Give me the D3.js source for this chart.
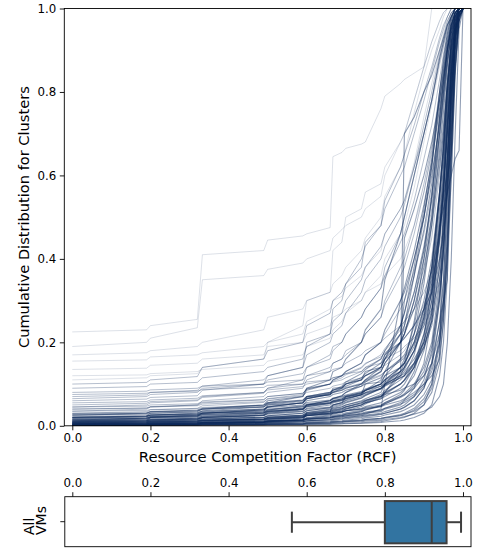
<!DOCTYPE html>
<html><head><meta charset="utf-8">
<script src="https://cdn.jsdelivr.net/npm/d3@7"></script>
<style>
body{margin:0;background:#fff}
svg{display:block}
text{font-family:"DejaVu Sans",sans-serif}
</style>
</head><body>
<svg id="chart" width="478" height="548"></svg>
<script>
// RCF grid on which each cluster's cumulative share is read
const gridX = [0, 0.19, 0.2, 0.32, 0.333, 0.49, 0.5, 0.59, 0.6, 0.66, 0.667, 0.69, 0.7, 0.74, 0.75, 0.79, 0.8, 0.84, 0.85, 0.875, 0.9, 0.92, 0.94, 0.95, 0.96, 0.97, 0.98, 0.99, 1.0];

// clusters starting low (dense band)
const lowCurves = [
 [0.004,0.006,0.007,0.009,0.01,0.014,0.016,0.02,0.024,0.03,0.032,0.036,0.04,0.05,0.055,0.065,0.07,0.09,0.1,0.14,0.22,0.32,0.48,0.58,0.72,0.85,0.95,0.99,1],
 [0.001,0.002,0.003,0.004,0.005,0.007,0.008,0.01,0.012,0.015,0.016,0.018,0.02,0.024,0.026,0.03,0.034,0.045,0.05,0.07,0.11,0.18,0.32,0.42,0.6,0.78,0.93,0.99,1],
 [0.012,0.016,0.02,0.025,0.03,0.038,0.045,0.055,0.065,0.075,0.08,0.085,0.09,0.1,0.11,0.13,0.15,0.2,0.22,0.3,0.4,0.5,0.64,0.72,0.82,0.91,0.97,1,1],
 [0,0.001,0.002,0.002,0.003,0.004,0.005,0.006,0.007,0.009,0.01,0.011,0.012,0.014,0.015,0.018,0.02,0.025,0.028,0.035,0.05,0.08,0.15,0.25,0.42,0.65,0.88,0.98,1],
 [0.02,0.024,0.03,0.034,0.04,0.05,0.06,0.07,0.085,0.1,0.11,0.12,0.13,0.15,0.17,0.2,0.23,0.3,0.33,0.42,0.53,0.63,0.76,0.83,0.9,0.95,0.99,1,1],
 [0.006,0.009,0.012,0.015,0.02,0.026,0.034,0.04,0.05,0.056,0.06,0.064,0.07,0.078,0.085,0.1,0.11,0.14,0.15,0.2,0.28,0.38,0.55,0.65,0.8,0.9,0.97,1,1],
 [0.025,0.03,0.034,0.038,0.042,0.05,0.055,0.062,0.07,0.08,0.085,0.09,0.1,0.11,0.12,0.14,0.16,0.22,0.3,0.4,0.5,0.6,0.72,0.8,0.88,0.94,0.98,1,1],
 [0,0.001,0.001,0.002,0.002,0.003,0.003,0.004,0.005,0.006,0.007,0.008,0.009,0.01,0.011,0.013,0.015,0.02,0.022,0.028,0.035,0.045,0.07,0.1,0.2,0.4,0.7,0.95,1],
 [0.008,0.011,0.014,0.018,0.022,0.03,0.038,0.048,0.06,0.07,0.075,0.08,0.085,0.095,0.1,0.115,0.13,0.16,0.17,0.22,0.3,0.4,0.56,0.66,0.78,0.89,0.96,1,1],
 [0.003,0.005,0.006,0.008,0.01,0.013,0.016,0.02,0.03,0.036,0.04,0.045,0.05,0.06,0.065,0.08,0.1,0.13,0.45,0.52,0.6,0.68,0.78,0.84,0.9,0.95,0.98,1,1],
 [0.014,0.018,0.022,0.026,0.03,0.038,0.045,0.055,0.065,0.075,0.08,0.09,0.095,0.11,0.12,0.14,0.16,0.2,0.21,0.24,0.28,0.32,0.4,0.46,0.56,0.7,0.86,0.97,1],
 [0,0.002,0.003,0.005,0.007,0.01,0.013,0.018,0.024,0.03,0.034,0.038,0.042,0.05,0.055,0.065,0.075,0.1,0.11,0.15,0.22,0.3,0.45,0.56,0.7,0.84,0.95,0.99,1],
 [0.018,0.022,0.026,0.03,0.036,0.045,0.055,0.07,0.09,0.11,0.13,0.14,0.16,0.2,0.23,0.28,0.35,0.46,0.5,0.6,0.7,0.78,0.88,0.92,0.96,0.98,1,1,1],
 [0.005,0.007,0.009,0.011,0.013,0.017,0.02,0.026,0.032,0.038,0.042,0.046,0.05,0.058,0.062,0.07,0.075,0.085,0.09,0.1,0.12,0.15,0.22,0.3,0.45,0.66,0.86,0.97,1],
 [0.01,0.012,0.02,0.022,0.03,0.033,0.05,0.054,0.07,0.074,0.09,0.092,0.1,0.11,0.13,0.14,0.17,0.2,0.22,0.28,0.38,0.48,0.62,0.7,0.82,0.92,0.98,1,1],
 [0.001,0.002,0.003,0.004,0.005,0.006,0.008,0.01,0.012,0.014,0.015,0.017,0.019,0.022,0.024,0.028,0.03,0.04,0.045,0.06,0.09,0.14,0.25,0.35,0.55,0.76,0.92,0.99,1],
 [0.002,0.003,0.004,0.005,0.006,0.008,0.01,0.014,0.03,0.034,0.05,0.055,0.07,0.075,0.1,0.105,0.12,0.14,0.15,0.19,0.27,0.38,0.54,0.64,0.8,0.92,0.98,1,1],
 [0.006,0.008,0.01,0.012,0.014,0.016,0.018,0.022,0.025,0.028,0.03,0.033,0.036,0.04,0.044,0.05,0.056,0.07,0.075,0.09,0.12,0.17,0.3,0.4,0.6,0.8,0.94,0.99,1],
 [0.01,0.012,0.014,0.016,0.018,0.02,0.022,0.025,0.028,0.03,0.032,0.034,0.036,0.04,0.042,0.046,0.05,0.06,0.065,0.08,0.1,0.12,0.16,0.55,0.6,0.65,0.95,1,1],
 [0.005,0.006,0.007,0.008,0.009,0.01,0.012,0.014,0.016,0.018,0.02,0.022,0.024,0.028,0.03,0.034,0.04,0.05,0.06,0.075,0.1,0.15,0.25,0.3,0.35,0.9,0.95,0.98,1],
 [0.02,0.022,0.025,0.027,0.03,0.034,0.038,0.045,0.05,0.055,0.06,0.065,0.07,0.08,0.085,0.1,0.12,0.16,0.7,0.74,0.8,0.84,0.9,0.93,0.96,0.98,1,1,1],
 [0.01,0.012,0.014,0.016,0.02,0.025,0.03,0.035,0.04,0.045,0.05,0.055,0.06,0.07,0.075,0.09,0.1,0.12,0.13,0.16,0.2,0.3,0.48,0.52,0.56,0.6,0.64,0.66,1],
 [0,0.002,0.003,0.004,0.005,0.006,0.007,0.01,0.012,0.015,0.017,0.02,0.022,0.025,0.028,0.04,0.1,0.3,0.32,0.4,0.5,0.62,0.8,0.88,0.94,0.98,1,1,1],
 [0.002,0.004,0.005,0.007,0.008,0.012,0.015,0.02,0.025,0.032,0.035,0.04,0.045,0.055,0.06,0.075,0.085,0.11,0.12,0.17,0.26,0.36,0.52,0.62,0.76,0.88,0.96,1,1],
 [0.015,0.018,0.021,0.024,0.027,0.032,0.036,0.042,0.048,0.055,0.058,0.062,0.066,0.074,0.078,0.088,0.095,0.115,0.12,0.15,0.2,0.27,0.4,0.5,0.66,0.82,0.94,0.99,1],
 [0.004,0.005,0.006,0.007,0.008,0.01,0.012,0.016,0.02,0.026,0.03,0.034,0.04,0.05,0.056,0.07,0.08,0.12,0.14,0.22,0.34,0.48,0.66,0.75,0.86,0.94,0.99,1,1],
 [0.026,0.028,0.03,0.032,0.035,0.04,0.044,0.05,0.056,0.062,0.066,0.07,0.074,0.082,0.088,0.1,0.11,0.13,0.14,0.18,0.25,0.34,0.5,0.6,0.74,0.87,0.96,1,1],
 [0,0.001,0.001,0.001,0.002,0.002,0.003,0.003,0.004,0.004,0.005,0.005,0.006,0.007,0.008,0.01,0.012,0.018,0.02,0.03,0.05,0.1,0.22,0.34,0.55,0.75,0.92,0.99,1],
 [0.008,0.01,0.012,0.014,0.016,0.02,0.024,0.03,0.036,0.044,0.05,0.056,0.062,0.075,0.085,0.11,0.13,0.2,0.24,0.36,0.5,0.62,0.78,0.85,0.92,0.97,1,1,1],
 [0.003,0.004,0.005,0.006,0.007,0.009,0.011,0.014,0.017,0.02,0.022,0.024,0.026,0.03,0.033,0.038,0.042,0.052,0.056,0.07,0.095,0.13,0.2,0.27,0.4,0.6,0.84,0.97,1],
 [0.012,0.014,0.016,0.018,0.02,0.024,0.028,0.034,0.042,0.05,0.055,0.06,0.065,0.075,0.08,0.095,0.105,0.13,0.14,0.18,0.24,0.32,0.46,0.56,0.7,0.84,0.95,0.99,1],
 [0.001,0.002,0.002,0.003,0.003,0.004,0.005,0.006,0.008,0.01,0.011,0.012,0.014,0.017,0.019,0.023,0.026,0.034,0.038,0.05,0.075,0.11,0.2,0.3,0.5,0.72,0.9,0.98,1],
 [0.007,0.008,0.009,0.01,0.012,0.015,0.018,0.022,0.027,0.034,0.038,0.042,0.046,0.055,0.06,0.072,0.08,0.1,0.11,0.14,0.19,0.25,0.38,0.48,0.64,0.8,0.93,0.99,1],
 [0.02,0.023,0.026,0.029,0.033,0.04,0.046,0.055,0.065,0.078,0.085,0.095,0.105,0.125,0.135,0.16,0.18,0.24,0.27,0.36,0.47,0.58,0.74,0.82,0.9,0.96,0.99,1,1],
 [0,0,0.001,0.001,0.001,0.002,0.002,0.003,0.003,0.004,0.004,0.005,0.005,0.006,0.006,0.008,0.009,0.012,0.014,0.02,0.03,0.05,0.12,0.2,0.36,0.6,0.85,0.98,1],
 [0.001,0.002,0.003,0.004,0.006,0.008,0.01,0.013,0.016,0.02,0.022,0.025,0.028,0.034,0.038,0.048,0.055,0.075,0.085,0.13,0.21,0.33,0.55,0.68,0.83,0.93,0.98,1,1],
 [0.009,0.01,0.011,0.012,0.013,0.015,0.017,0.02,0.024,0.028,0.03,0.033,0.036,0.042,0.046,0.055,0.062,0.08,0.088,0.12,0.18,0.27,0.44,0.56,0.72,0.86,0.96,1,1],
 [0.002,0.003,0.004,0.005,0.006,0.008,0.01,0.012,0.015,0.018,0.02,0.022,0.024,0.028,0.031,0.037,0.042,0.056,0.062,0.09,0.15,0.26,0.47,0.6,0.77,0.9,0.97,1,1],
 [0.016,0.018,0.02,0.022,0.025,0.03,0.034,0.04,0.046,0.054,0.058,0.063,0.068,0.078,0.084,0.1,0.11,0.14,0.15,0.2,0.28,0.38,0.56,0.67,0.8,0.91,0.97,1,1],
 [0,0.001,0.002,0.003,0.004,0.005,0.006,0.008,0.01,0.012,0.013,0.015,0.017,0.02,0.022,0.027,0.03,0.04,0.044,0.06,0.09,0.15,0.3,0.42,0.62,0.82,0.95,0.99,1],
 [0.005,0.006,0.008,0.01,0.012,0.016,0.02,0.025,0.032,0.04,0.044,0.05,0.055,0.066,0.072,0.09,0.1,0.14,0.16,0.24,0.36,0.5,0.7,0.8,0.9,0.96,0.99,1,1],
 [0.022,0.024,0.026,0.028,0.031,0.036,0.04,0.046,0.052,0.06,0.064,0.068,0.072,0.08,0.085,0.095,0.1,0.12,0.125,0.15,0.19,0.25,0.38,0.48,0.64,0.8,0.93,0.99,1],
 [0.003,0.004,0.005,0.006,0.007,0.009,0.011,0.013,0.016,0.02,0.022,0.025,0.028,0.034,0.038,0.046,0.052,0.07,0.077,0.1,0.14,0.2,0.34,0.46,0.64,0.83,0.95,0.99,1],
 [0.012,0.013,0.015,0.017,0.02,0.025,0.03,0.038,0.05,0.06,0.066,0.072,0.08,0.095,0.105,0.13,0.15,0.2,0.22,0.3,0.42,0.55,0.73,0.82,0.9,0.96,0.99,1,1],
 [0.001,0.001,0.002,0.002,0.003,0.004,0.004,0.005,0.006,0.008,0.009,0.01,0.011,0.013,0.015,0.018,0.02,0.027,0.03,0.042,0.065,0.1,0.19,0.28,0.46,0.7,0.9,0.98,1],
 [0.007,0.009,0.011,0.013,0.016,0.02,0.024,0.03,0.036,0.043,0.047,0.052,0.057,0.067,0.073,0.088,0.097,0.125,0.135,0.18,0.26,0.37,0.56,0.67,0.81,0.92,0.98,1,1],
 [0.028,0.03,0.033,0.036,0.04,0.046,0.052,0.06,0.07,0.08,0.086,0.092,0.1,0.115,0.125,0.15,0.17,0.22,0.24,0.32,0.43,0.54,0.7,0.79,0.88,0.95,0.99,1,1],
 [0.004,0.005,0.006,0.007,0.008,0.01,0.012,0.015,0.018,0.022,0.025,0.028,0.031,0.037,0.04,0.048,0.053,0.068,0.073,0.095,0.13,0.19,0.31,0.42,0.58,0.77,0.93,0.99,1],
 [0.014,0.016,0.018,0.02,0.023,0.027,0.032,0.04,0.05,0.06,0.065,0.072,0.08,0.1,0.11,0.14,0.16,0.24,0.27,0.38,0.52,0.64,0.8,0.87,0.93,0.97,1,1,1],
 [0,0.001,0.001,0.002,0.002,0.003,0.004,0.005,0.006,0.007,0.008,0.009,0.01,0.012,0.013,0.016,0.018,0.024,0.027,0.038,0.058,0.09,0.17,0.25,0.42,0.66,0.88,0.98,1],
 [0.006,0.007,0.009,0.011,0.013,0.016,0.019,0.023,0.028,0.034,0.037,0.041,0.045,0.053,0.058,0.07,0.078,0.1,0.108,0.14,0.2,0.28,0.45,0.57,0.73,0.87,0.96,1,1],
 [0.018,0.02,0.022,0.024,0.027,0.031,0.035,0.04,0.046,0.053,0.057,0.061,0.065,0.074,0.079,0.09,0.097,0.115,0.12,0.145,0.185,0.24,0.35,0.44,0.58,0.75,0.92,0.99,1],
 [0.002,0.003,0.004,0.005,0.006,0.008,0.01,0.014,0.018,0.024,0.028,0.032,0.036,0.046,0.052,0.068,0.08,0.13,0.15,0.25,0.4,0.55,0.74,0.83,0.91,0.96,0.99,1,1]
];

// clusters starting at a moderate level
const midCurves = [
 [0.03,0.034,0.038,0.042,0.048,0.056,0.065,0.075,0.09,0.1,0.11,0.12,0.13,0.15,0.17,0.2,0.22,0.28,0.3,0.37,0.46,0.56,0.7,0.78,0.87,0.94,0.98,1,1],
 [0.035,0.04,0.045,0.05,0.06,0.07,0.08,0.09,0.11,0.13,0.15,0.16,0.18,0.2,0.22,0.26,0.3,0.38,0.4,0.48,0.58,0.67,0.8,0.86,0.92,0.96,0.99,1,1],
 [0.04,0.042,0.045,0.048,0.052,0.058,0.064,0.072,0.08,0.09,0.095,0.1,0.105,0.115,0.12,0.135,0.145,0.17,0.18,0.22,0.28,0.35,0.48,0.57,0.7,0.84,0.95,0.99,1],
 [0.03,0.032,0.034,0.036,0.04,0.045,0.05,0.058,0.066,0.075,0.08,0.085,0.09,0.1,0.105,0.12,0.13,0.155,0.165,0.2,0.26,0.33,0.47,0.57,0.72,0.86,0.96,1,1],
 [0.045,0.047,0.05,0.053,0.057,0.063,0.07,0.078,0.088,0.1,0.107,0.115,0.122,0.138,0.148,0.17,0.185,0.23,0.25,0.32,0.42,0.52,0.68,0.77,0.87,0.94,0.99,1,1],
 [0.035,0.037,0.039,0.041,0.044,0.049,0.054,0.061,0.068,0.077,0.082,0.087,0.092,0.102,0.108,0.122,0.13,0.155,0.162,0.195,0.25,0.32,0.46,0.56,0.7,0.84,0.95,0.99,1],
 [0.05,0.054,0.058,0.062,0.07,0.08,0.09,0.1,0.12,0.14,0.15,0.16,0.17,0.2,0.22,0.26,0.29,0.36,0.38,0.46,0.56,0.66,0.78,0.85,0.91,0.96,0.99,1,1],
 [0.06,0.064,0.068,0.072,0.085,0.1,0.12,0.14,0.17,0.2,0.22,0.24,0.27,0.32,0.35,0.4,0.43,0.5,0.53,0.62,0.72,0.8,0.89,0.93,0.97,0.99,1,1,1],
 [0.04,0.043,0.046,0.05,0.055,0.062,0.07,0.078,0.088,0.1,0.105,0.11,0.115,0.13,0.14,0.16,0.18,0.22,0.23,0.28,0.36,0.45,0.6,0.7,0.82,0.92,0.98,1,1],
 [0.07,0.074,0.08,0.085,0.095,0.11,0.12,0.14,0.2,0.22,0.28,0.3,0.34,0.38,0.44,0.48,0.54,0.62,0.65,0.72,0.8,0.86,0.93,0.96,0.98,1,1,1,1],
 [0.08,0.083,0.086,0.09,0.095,0.1,0.105,0.11,0.12,0.13,0.135,0.14,0.15,0.17,0.18,0.2,0.21,0.24,0.25,0.28,0.32,0.37,0.46,0.54,0.66,0.8,0.93,0.99,1],
 [0.045,0.05,0.055,0.06,0.068,0.078,0.09,0.11,0.14,0.17,0.19,0.2,0.22,0.26,0.28,0.33,0.38,0.46,0.5,0.6,0.7,0.78,0.88,0.92,0.96,0.99,1,1,1],
 [0.09,0.094,0.1,0.104,0.115,0.13,0.14,0.16,0.19,0.22,0.25,0.27,0.3,0.35,0.38,0.43,0.46,0.52,0.54,0.62,0.7,0.78,0.87,0.91,0.95,0.98,1,1,1],
 [0.055,0.058,0.062,0.066,0.072,0.08,0.086,0.094,0.1,0.11,0.115,0.12,0.125,0.14,0.15,0.165,0.175,0.2,0.21,0.24,0.29,0.34,0.44,0.52,0.64,0.78,0.92,0.99,1],
 [0.1,0.104,0.11,0.118,0.14,0.16,0.18,0.2,0.24,0.27,0.3,0.32,0.34,0.4,0.43,0.48,0.52,0.6,0.62,0.7,0.78,0.85,0.92,0.95,0.98,1,1,1,1],
 [0.065,0.07,0.075,0.08,0.09,0.1,0.11,0.125,0.14,0.16,0.18,0.2,0.22,0.26,0.28,0.33,0.36,0.44,0.46,0.54,0.64,0.72,0.83,0.89,0.94,0.98,1,1,1],
 [0.075,0.078,0.08,0.083,0.087,0.092,0.097,0.1,0.105,0.11,0.115,0.12,0.125,0.13,0.14,0.15,0.16,0.18,0.19,0.21,0.24,0.28,0.35,0.42,0.56,0.72,0.9,0.98,1]
];

// outlying clusters starting high
const highCurves = [
 [0.225,0.23,0.24,0.255,0.41,0.42,0.445,0.455,0.46,0.475,0.645,0.655,0.665,0.675,0.68,0.76,0.79,0.82,0.83,0.845,0.86,1,1,1,1,1,1,1,1],
 [0.19,0.2,0.21,0.235,0.35,0.36,0.375,0.39,0.4,0.42,0.45,0.47,0.48,0.5,0.52,0.55,0.6,0.68,0.7,0.78,0.86,0.92,0.97,0.99,1,1,1,1,1],
 [0.17,0.175,0.18,0.19,0.2,0.23,0.26,0.28,0.3,0.32,0.34,0.36,0.38,0.42,0.45,0.5,0.55,0.62,0.65,0.75,0.84,0.9,0.95,0.98,1,1,1,1,1],
 [0.155,0.158,0.165,0.17,0.175,0.19,0.2,0.22,0.25,0.28,0.3,0.31,0.33,0.36,0.38,0.42,0.46,0.52,0.54,0.63,0.74,0.82,0.9,0.94,0.97,0.99,1,1,1],
 [0.12,0.122,0.125,0.13,0.135,0.145,0.155,0.17,0.19,0.21,0.23,0.25,0.27,0.3,0.32,0.36,0.4,0.46,0.48,0.57,0.68,0.77,0.86,0.91,0.95,0.98,1,1,1],
 [0.135,0.138,0.145,0.15,0.16,0.17,0.19,0.2,0.22,0.24,0.26,0.27,0.28,0.3,0.32,0.34,0.36,0.4,0.42,0.48,0.56,0.65,0.76,0.83,0.9,0.96,0.99,1,1],
 [0.11,0.115,0.12,0.125,0.14,0.16,0.2,0.24,0.3,0.32,0.42,0.44,0.5,0.52,0.56,0.58,0.62,0.68,0.7,0.78,0.86,0.92,0.97,0.99,1,1,1,1,1]
];

const xTicks = [0, 0.2, 0.4, 0.6, 0.8, 1.0];
const yTicks = [0, 0.2, 0.4, 0.6, 0.8, 1.0];
const boxCategories = ["All VMs"];
// whisker low, Q1, median, Q3, whisker high
const boxStats = [0.562, 0.800, 0.920, 0.958, 0.995];

const svg = d3.select("#chart");
const lineColor = "#0e2a5c";
const fmt = d3.format(".1f");

const M = {left: 64.3, right: 471, top: 8.5, bottom: 425.8};
const B = {top: 496.7, bottom: 546.7};

const x = d3.scaleLinear().domain([-0.0205, 1.0205]).range([M.left, M.right]);
const y = d3.scaleLinear().domain([0, 1]).range([M.bottom, M.top]);

svg.append("defs").append("clipPath").attr("id", "clipMain")
  .append("rect").attr("x", M.left).attr("y", M.top)
  .attr("width", M.right - M.left).attr("height", M.bottom - M.top);

const line = d3.line()
  .x((d, i) => x(gridX[i]))
  .y(d => y(d));

const gLines = svg.append("g").attr("clip-path", "url(#clipMain)");
function drawFamily(data, op, w) {
  gLines.append("g").selectAll("path").data(data).join("path")
    .attr("d", line)
    .attr("fill", "none")
    .attr("stroke", lineColor)
    .attr("stroke-width", w)
    .attr("stroke-opacity", op);
}
drawFamily(highCurves, 0.14, 1);
drawFamily(midCurves, 0.3, 1);
drawFamily(lowCurves, 0.45, 1.1);

// frame
svg.append("rect").attr("x", M.left).attr("y", M.top)
  .attr("width", M.right - M.left).attr("height", M.bottom - M.top)
  .attr("fill", "none").attr("stroke", "#000").attr("stroke-width", 0.9);

function styleAxis(g) {
  g.select(".domain").remove();
  g.selectAll(".tick line").attr("stroke", "#000").attr("stroke-width", 0.9);
  g.selectAll(".tick text").attr("fill", "#000").style("font-size", "11.8px")
    .style("font-family", "DejaVu Sans");
}

svg.append("g").attr("transform", `translate(0,${M.bottom})`)
  .call(d3.axisBottom(x).tickValues(xTicks).tickFormat(fmt).tickSize(4.5).tickPadding(3.5))
  .call(styleAxis);
svg.append("g").attr("transform", `translate(${M.left},0)`)
  .call(d3.axisLeft(y).tickValues(yTicks).tickFormat(fmt).tickSize(4.5).tickPadding(3.5))
  .call(styleAxis);

svg.append("text").attr("x", (x(0) + x(1)) / 2).attr("y", 461.5)
  .attr("text-anchor", "middle").style("font-size", "14.8px")
  .text("Resource Competition Factor (RCF)");
svg.append("text")
  .attr("transform", `translate(29,${(M.top + M.bottom) / 2}) rotate(-90)`)
  .attr("text-anchor", "middle").style("font-size", "14.6px")
  .text("Cumulative Distribution for Clusters");

// box plot panel
const yb = d3.scaleBand().domain(boxCategories).range([B.top, B.bottom]).paddingInner(0).paddingOuter(0);
svg.append("g").attr("transform", `translate(0,${B.top})`)
  .call(d3.axisTop(x).tickValues(xTicks).tickFormat(fmt).tickSize(4.5).tickPadding(5.5))
  .call(styleAxis);
svg.append("g").attr("transform", `translate(${M.left + 0.5},0)`)
  .call(d3.axisLeft(yb).tickSize(4.5).tickFormat(""))
  .call(styleAxis);

const cy = yb(boxCategories[0]) + yb.bandwidth() / 2 + 0.5;
const bh = yb.bandwidth() * 0.845;
const capH = bh / 2;
const gb = svg.append("g");
const edge = "#3f3f3f", ew = 2;
gb.append("line").attr("x1", x(boxStats[0])).attr("x2", x(boxStats[1]))
  .attr("y1", cy).attr("y2", cy).attr("stroke", edge).attr("stroke-width", ew);
gb.append("line").attr("x1", x(boxStats[3])).attr("x2", x(boxStats[4]))
  .attr("y1", cy).attr("y2", cy).attr("stroke", edge).attr("stroke-width", ew);
[boxStats[0], boxStats[4]].forEach(v => {
  gb.append("line").attr("x1", x(v)).attr("x2", x(v))
    .attr("y1", cy - capH / 2).attr("y2", cy + capH / 2)
    .attr("stroke", edge).attr("stroke-width", ew);
});
gb.append("rect").attr("x", x(boxStats[1])).attr("y", cy - bh / 2)
  .attr("width", x(boxStats[3]) - x(boxStats[1])).attr("height", bh)
  .attr("fill", "#3274a1").attr("stroke", edge).attr("stroke-width", ew);
gb.append("line").attr("x1", x(boxStats[2])).attr("x2", x(boxStats[2]))
  .attr("y1", cy - bh / 2).attr("y2", cy + bh / 2)
  .attr("stroke", edge).attr("stroke-width", ew);

svg.append("rect").attr("x", M.left + 0.5).attr("y", B.top)
  .attr("width", M.right - M.left - 0.5).attr("height", B.bottom - B.top)
  .attr("fill", "none").attr("stroke", "#000").attr("stroke-width", 0.9);

// category label (two lines, rotated)
const lab = svg.append("text")
  .attr("transform", `translate(33.5,535) rotate(-90)`)
  .attr("text-anchor", "start").style("font-size", "14px");
boxCategories[0].split(" ").forEach((w, i) => {
  lab.append("tspan").attr("x", 0).attr("dy", i === 0 ? 0 : 12).text(w);
});
</script>
</body></html>
